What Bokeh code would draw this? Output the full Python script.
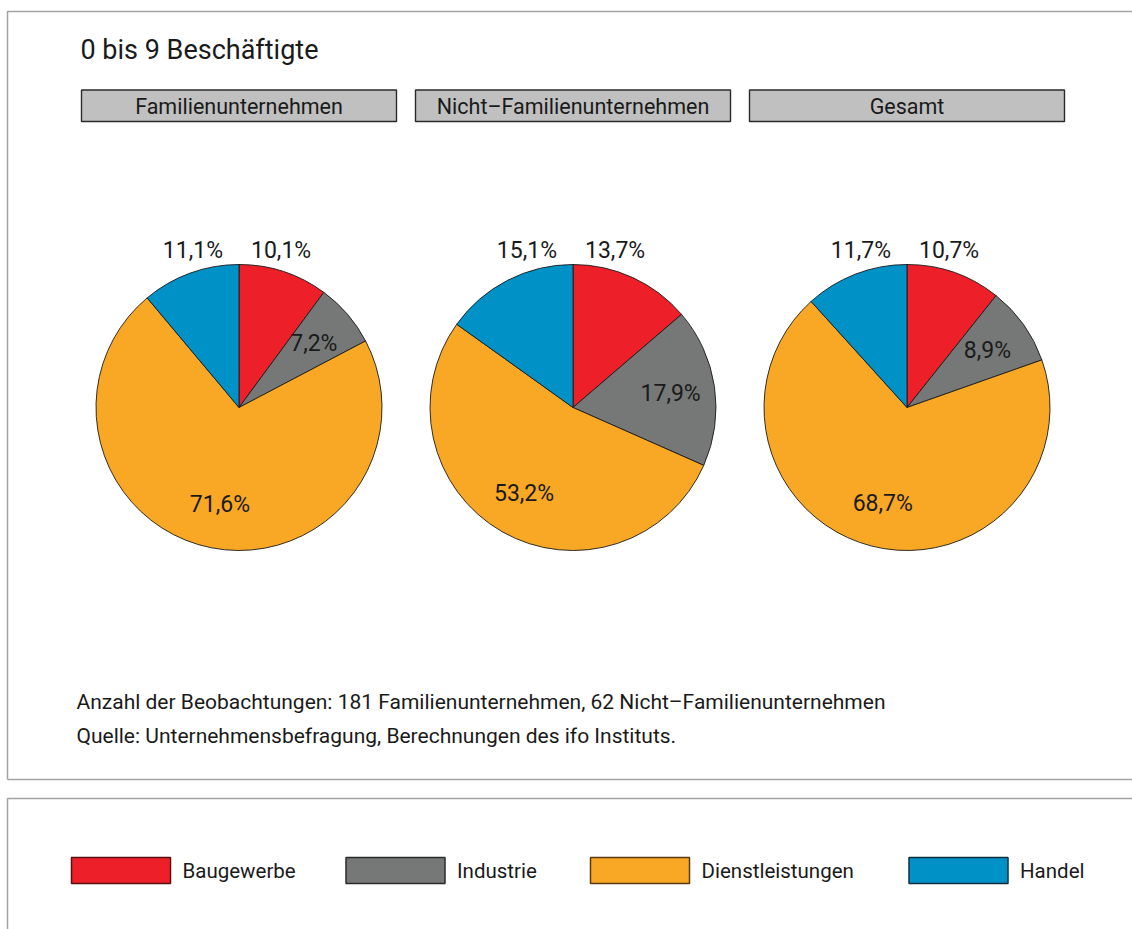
import math
from bokeh.plotting import figure
from bokeh.models import Range1d, ColumnDataSource
from bokeh.core.properties import value
from bokeh.embed import file_html
from bokeh.resources import INLINE

# ---------------- data ----------------
title_text = "0 bis 9 Beschäftigte"
categories = ["Baugewerbe", "Industrie", "Dienstleistungen", "Handel"]
colors = ["#ED1F28", "#767877", "#F9A825", "#0091C7"]
groups = ["Familienunternehmen", "Nicht\u2013Familienunternehmen", "Gesamt"]
familien = [10.1, 7.2, 71.6, 11.1]
nicht_familien = [13.7, 17.9, 53.2, 15.1]
gesamt = [10.7, 8.9, 68.7, 11.7]
series = [familien, nicht_familien, gesamt]
note1 = "Anzahl der Beobachtungen: 181 Familienunternehmen, 62 Nicht\u2013Familienunternehmen"
note2 = "Quelle: Unternehmensbefragung, Berechnungen des ifo Instituts."

FONT = value("Roboto")
TXT = "#1a1a1a"

W, H = 1132, 929


def Y(py):
    return H - py


p = figure(width=W, height=H, x_range=Range1d(0, W), y_range=Range1d(0, H),
           output_backend="svg", toolbar_location=None, min_border=0)
p.axis.visible = False
p.grid.visible = False
p.outline_line_color = None
p.background_fill_color = "white"
p.border_fill_color = "white"

# panel frames
border = "#a3a3a3"
p.line([7, 7, W], [Y(779), Y(11), Y(11)], line_color=border, line_width=1.5)
p.line([7, W], [Y(779), Y(779)], line_color=border, line_width=1.5)
p.line([7, 7, W], [Y(H), Y(798), Y(798)], line_color=border, line_width=1.5)

# title
p.text(x=[80], y=[Y(49)], text=[title_text], text_font=FONT, text_font_size="27px",
       text_color=TXT, text_baseline="middle", text_align="left")

# strips + pies
box_left = [81, 415, 749]
box_w = 315
radius = 143
cy = Y(407)
for gi, (grp, vals) in enumerate(zip(groups, series)):
    x0 = box_left[gi]
    cx = x0 + box_w / 2
    p.quad(left=[x0], right=[x0 + box_w], top=[Y(89.5)], bottom=[Y(121)],
           fill_color="#c0c0c0", line_color="#2a2a2a", line_width=1.4)
    p.text(x=[cx], y=[Y(106)], text=[grp], text_font=FONT, text_font_size="21.5px",
           text_color=TXT, text_align="center", text_baseline="middle")

    total = sum(vals)
    cum = 0.0
    starts, ends = [], []
    for v in vals:
        a0 = math.pi / 2 - 2 * math.pi * cum / total
        cum += v
        a1 = math.pi / 2 - 2 * math.pi * cum / total
        starts.append(a1)
        ends.append(a0)
    src = ColumnDataSource(dict(start=starts, end=ends, color=colors, cat=categories))
    p.wedge(x=cx, y=cy, radius=radius, start_angle="start", end_angle="end",
            fill_color="color", line_color="#1a1a1a", line_width=0.9, source=src)

    labels = [("%.1f" % v).replace(".", ",") + "%" for v in vals]
    # inner labels for the middle slices
    for i in (1, 2):
        mid = (starts[i] + ends[i]) / 2
        r = radius * 0.69
        p.text(x=[cx + r * math.cos(mid)], y=[cy + r * math.sin(mid)], text=[labels[i]],
               text_font=FONT, text_font_size="23px", text_color=TXT,
               text_align="center", text_baseline="middle")
    # outer labels for the first and last slices
    p.text(x=[cx + 12], y=[Y(250)], text=[labels[0]], text_font=FONT, text_font_size="23px",
           text_color=TXT, text_align="left", text_baseline="middle")
    p.text(x=[cx - 16], y=[Y(250)], text=[labels[3]], text_font=FONT, text_font_size="23px",
           text_color=TXT, text_align="right", text_baseline="middle")

# notes
p.text(x=[76], y=[Y(701)], text=[note1], text_font=FONT, text_font_size="21px",
       text_color=TXT, text_baseline="middle")
p.text(x=[76], y=[Y(735)], text=[note2], text_font=FONT, text_font_size="21px",
       text_color=TXT, text_baseline="middle")

# legend
leg_left = [71, 345.5, 590, 908.5]
leg_w = 99
edge_cols = ["#5a1010", "#2a2a2a", "#5a3a10", "#103040"]
for i, cat in enumerate(categories):
    l = leg_left[i]
    p.quad(left=[l], right=[l + leg_w], top=[Y(857)], bottom=[Y(883)],
           fill_color=colors[i], line_color=edge_cols[i], line_width=1.5)
    p.text(x=[l + leg_w + 12], y=[Y(870)], text=[cat], text_font=FONT, text_font_size="20.5px",
           text_color=TXT, text_align="left", text_baseline="middle")

open("out.html", "w").write(file_html(p, INLINE))
